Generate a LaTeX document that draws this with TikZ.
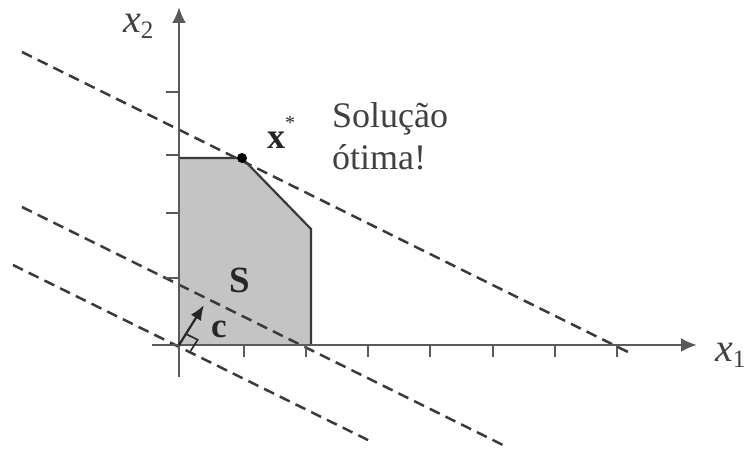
\documentclass[tikz,border=0pt]{standalone}
\usepackage{fontspec}
\setmainfont{Liberation Serif}
\usetikzlibrary{arrows.meta}
\definecolor{axisgray}{HTML}{5A5A5A}
\definecolor{linegray}{HTML}{3A3A3A}
\definecolor{regionfill}{HTML}{C4C4C4}
\definecolor{textgray}{HTML}{404040}
\tikzset{
  axisline/.style={draw=axisgray, line width=2.6pt, -{Latex[length=16pt,width=14pt]}},
  axtick/.style={draw=axisgray, line width=2.4pt},
  levelline/.style={draw=linegray, line width=2.5pt, dash pattern=on 11pt off 6.5pt},
  border/.style={draw=linegray, line width=2.2pt},
  lbl/.style={inner sep=0pt, text=textgray},
  bigtext/.style={lbl, font=\fontsize{36}{40}\selectfont},
}
\begin{document}
\begin{tikzpicture}[x=1pt,y=-1pt]
\useasboundingbox (0,0) rectangle (744,452);
% region corners
\coordinate (O) at (179,345);
\coordinate (P1) at (179,158);
\coordinate (P2) at (242,158);
\coordinate (P3) at (311,229);
\coordinate (P4) at (311,345);
\fill[regionfill] (O) -- (P1) -- (P2) -- (P3) -- (P4) -- cycle;
% level lines
\coordinate (L1a) at (22,52);   \coordinate (L1b) at (628,352);
\coordinate (L2a) at (22,207);  \coordinate (L2b) at (507,447);
\coordinate (L3a) at (13,265);  \coordinate (L3b) at (372,442);
\draw[levelline] (L1a) -- (L1b);
\draw[levelline] (L2a) -- (L2b);
\draw[levelline] (L3a) -- (L3b);
% region border
\draw[border] (P1) -- (P2) -- (P3) -- (P4);
% axes
\coordinate (xs) at (152,345); \coordinate (xe) at (697,345);
\coordinate (ys) at (179,377); \coordinate (ye) at (179,7);
\draw[axisline] (xs) -- (xe);
\draw[axisline] (ys) -- (ye);
\foreach \t in {244,306,368,430,493,555,617}
  \draw[axtick] (\t,345) -- (\t,357);
\foreach \t in {92,155,213,278}
  \draw[axtick] (166,\t) -- (179,\t);
% optimum point
\fill[black] (P2) circle (5pt);
% cost vector
\coordinate (cT) at (204,305);
\draw[draw=black!85, line width=2.2pt, -{Latex[length=15pt,width=12pt]}] (O) -- (cT);
\coordinate (r1) at (186,334);
\coordinate (r2) at (197.7,339.8);
\coordinate (r3) at (190.7,350.8);
\draw[draw=black!85, line width=1.6pt] (r1) -- (r2) -- (r3);
% labels
\node[lbl, anchor=base west, font=\fontsize{40}{42}\selectfont] (x2) at (123,33)
  {\textit{x}\raisebox{-6pt}{\fontsize{25}{25}\selectfont 2}};
\node[lbl, anchor=base west, font=\fontsize{40}{42}\selectfont] (x1) at (715,361)
  {\textit{x}\raisebox{-6pt}{\fontsize{25}{25}\selectfont 1}};
\node[lbl, anchor=base west, font=\fontsize{36}{40}\selectfont\bfseries, text=black!85] (xstar) at (267,148)
  {x\raisebox{19pt}{\fontsize{20}{20}\selectfont\mdseries *}};
\node[lbl, anchor=base west, font=\fontsize{37}{40}\selectfont\bfseries, text=black!85] (S) at (229,292) {S};
\node[lbl, anchor=base west, font=\fontsize{35}{40}\selectfont\bfseries, text=black!85] (c) at (211,337) {c};
\node[bigtext, anchor=base west] (sol1) at (332,127) {Solução};
\node[bigtext, anchor=base west] (sol2) at (332,169) {ótima!};
\end{tikzpicture}
\end{document}
